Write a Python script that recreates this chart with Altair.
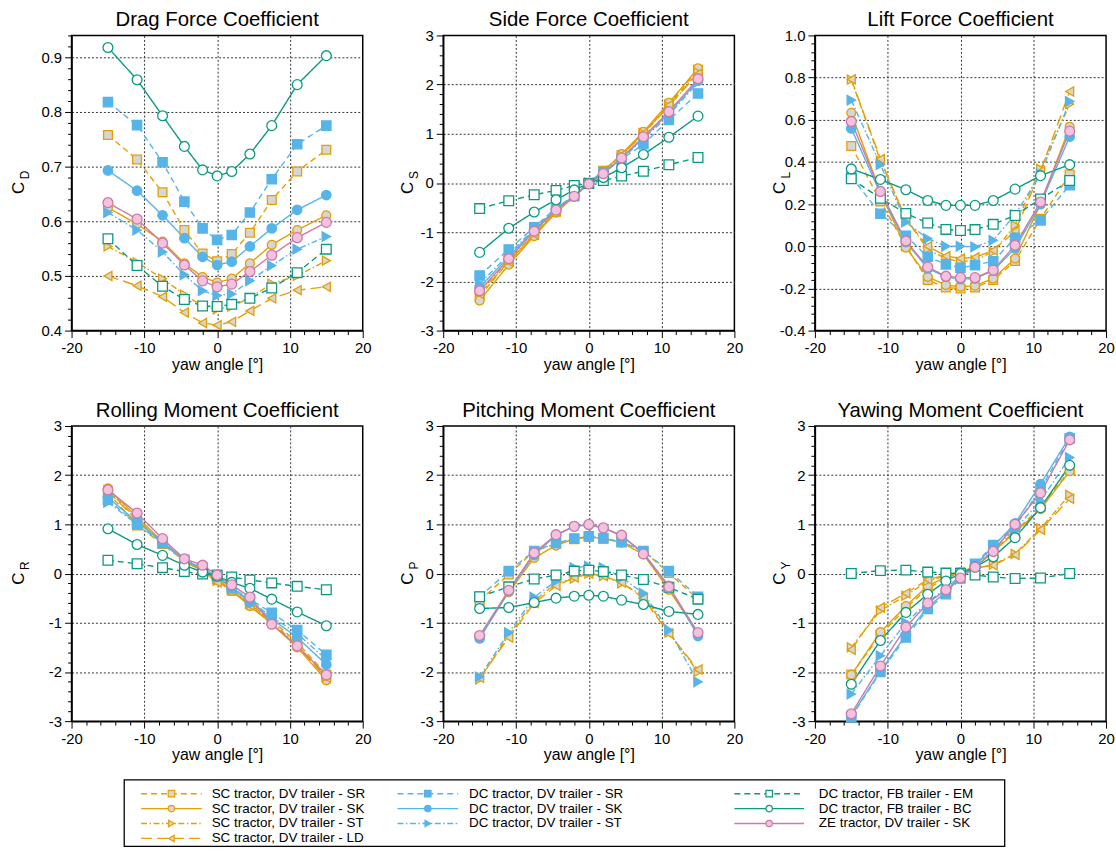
import altair as alt
import pandas as pd

yaw = [-15, -11, -7.5, -4.5, -2, 0, 2, 4.5, 7.5, 11, 15]

labels = [
    "SC tractor, DV trailer - SR",
    "SC tractor, DV trailer - SK",
    "SC tractor, DV trailer - ST",
    "SC tractor, DV trailer - LD",
    "DC tractor, DV trailer - SR",
    "DC tractor, DV trailer - SK",
    "DC tractor, DV trailer - ST",
    "DC tractor, FB trailer - EM",
    "DC tractor, FB trailer - BC",
    "ZE tractor, DV trailer - SK",
]
keys = ["SC_SR", "SC_SK", "SC_ST", "SC_LD", "DC_SR", "DC_SK", "DC_ST", "FB_EM", "FB_BC", "ZE_SK"]

CD = {
    "SC_SR": [0.758, 0.713, 0.653, 0.584, 0.541, 0.527, 0.540, 0.579, 0.639, 0.691, 0.731],
    "SC_SK": [0.625, 0.595, 0.563, 0.523, 0.498, 0.488, 0.495, 0.523, 0.557, 0.584, 0.611],
    "SC_ST": [0.554, 0.525, 0.495, 0.466, 0.445, 0.439, 0.444, 0.460, 0.486, 0.500, 0.528],
    "SC_LD": [0.500, 0.482, 0.462, 0.433, 0.414, 0.410, 0.416, 0.436, 0.459, 0.474, 0.480],
    "DC_SR": [0.818, 0.776, 0.708, 0.636, 0.587, 0.566, 0.575, 0.616, 0.677, 0.741, 0.775],
    "DC_SK": [0.693, 0.656, 0.611, 0.569, 0.535, 0.520, 0.526, 0.554, 0.587, 0.621, 0.648],
    "DC_ST": [0.616, 0.584, 0.544, 0.502, 0.473, 0.464, 0.467, 0.491, 0.519, 0.549, 0.572],
    "FB_EM": [0.568, 0.519, 0.481, 0.457, 0.445, 0.444, 0.448, 0.459, 0.478, 0.506, 0.549],
    "FB_BC": [0.918, 0.859, 0.793, 0.737, 0.694, 0.683, 0.691, 0.723, 0.775, 0.850, 0.903],
    "ZE_SK": [0.634, 0.604, 0.560, 0.520, 0.491, 0.480, 0.485, 0.508, 0.538, 0.570, 0.598],
}
CS = {
    "SC_SR": [-2.30, -1.60, -1.05, -0.58, -0.27, 0.00, 0.25, 0.57, 1.02, 1.60, 2.30],
    "SC_SK": [-2.39, -1.66, -1.08, -0.60, -0.27, 0.00, 0.24, 0.59, 1.04, 1.63, 2.33],
    "SC_ST": [-2.20, -1.58, -1.03, -0.57, -0.27, 0.00, 0.24, 0.56, 1.00, 1.56, 2.25],
    "SC_LD": [-2.25, -1.60, -1.04, -0.58, -0.27, 0.00, 0.25, 0.57, 1.01, 1.58, 2.22],
    "DC_SR": [-1.88, -1.35, -0.90, -0.50, -0.26, 0.00, 0.22, 0.48, 0.79, 1.28, 1.82],
    "DC_SK": [-2.12, -1.50, -0.95, -0.53, -0.26, 0.00, 0.22, 0.50, 0.92, 1.42, 2.08],
    "DC_ST": [-2.05, -1.45, -0.93, -0.52, -0.26, 0.00, 0.21, 0.48, 0.90, 1.38, 2.05],
    "FB_EM": [-0.52, -0.36, -0.24, -0.15, -0.05, -0.01, 0.05, 0.14, 0.24, 0.37, 0.52],
    "FB_BC": [-1.41, -0.92, -0.59, -0.34, -0.14, -0.01, 0.11, 0.31, 0.58, 0.93, 1.36],
    "ZE_SK": [-2.19, -1.54, -0.98, -0.55, -0.27, -0.02, 0.19, 0.51, 0.94, 1.45, 2.12],
}
CL = {
    "SC_SR": [0.476, 0.213, 0.000, -0.160, -0.196, -0.200, -0.196, -0.160, -0.070, 0.130, 0.340],
    "SC_SK": [0.633, 0.255, -0.006, -0.145, -0.184, -0.192, -0.187, -0.153, -0.058, 0.200, 0.567],
    "SC_ST": [0.790, 0.406, 0.130, -0.015, -0.058, -0.074, -0.066, -0.027, 0.100, 0.367, 0.674],
    "SC_LD": [0.792, 0.414, 0.126, 0.000, -0.046, -0.058, -0.052, -0.020, 0.071, 0.356, 0.734],
    "DC_SR": [0.330, 0.154, 0.050, -0.050, -0.086, -0.102, -0.090, -0.071, 0.040, 0.123, 0.290],
    "DC_SK": [0.559, 0.250, 0.020, -0.105, -0.145, -0.156, -0.153, -0.116, -0.010, 0.200, 0.520],
    "DC_ST": [0.693, 0.387, 0.115, 0.036, 0.000, 0.000, -0.003, 0.028, 0.150, 0.343, 0.687],
    "FB_EM": [0.320, 0.228, 0.156, 0.110, 0.080, 0.075, 0.079, 0.104, 0.146, 0.224, 0.312],
    "FB_BC": [0.367, 0.317, 0.268, 0.217, 0.194, 0.194, 0.194, 0.217, 0.271, 0.335, 0.387],
    "ZE_SK": [0.592, 0.260, 0.025, -0.099, -0.142, -0.149, -0.149, -0.113, 0.005, 0.210, 0.546],
}
CR = {
    "SC_SR": [1.65, 0.98, 0.60, 0.25, 0.05, -0.12, -0.35, -0.62, -0.95, -1.40, -2.05],
    "SC_SK": [1.73, 1.15, 0.65, 0.28, 0.08, -0.10, -0.35, -0.66, -1.02, -1.50, -2.17],
    "SC_ST": [1.70, 1.10, 0.63, 0.26, 0.06, -0.15, -0.33, -0.62, -0.98, -1.45, -2.10],
    "SC_LD": [1.68, 1.08, 0.62, 0.26, 0.05, -0.18, -0.33, -0.65, -1.00, -1.48, -2.12],
    "DC_SR": [1.50, 1.01, 0.62, 0.28, 0.12, -0.05, -0.28, -0.52, -0.80, -1.15, -1.65],
    "DC_SK": [1.55, 1.05, 0.65, 0.28, 0.10, -0.07, -0.30, -0.58, -0.92, -1.30, -1.85],
    "DC_ST": [1.45, 1.00, 0.62, 0.27, 0.10, -0.06, -0.29, -0.55, -0.88, -1.22, -1.75],
    "FB_EM": [0.27, 0.20, 0.12, 0.04, -0.01, -0.03, -0.07, -0.13, -0.19, -0.26, -0.33],
    "FB_BC": [0.91, 0.59, 0.37, 0.17, 0.03, -0.05, -0.18, -0.30, -0.52, -0.78, -1.06],
    "ZE_SK": [1.70, 1.23, 0.71, 0.30, 0.17, -0.03, -0.23, -0.48, -1.03, -1.47, -2.06],
}
CP = {
    "SC_SR": [-0.55, -0.02, 0.46, 0.60, 0.70, 0.75, 0.71, 0.64, 0.46, 0.01, -0.52],
    "SC_SK": [-1.29, -0.38, 0.32, 0.57, 0.71, 0.74, 0.71, 0.63, 0.39, -0.33, -1.22],
    "SC_ST": [-2.15, -1.25, -0.55, -0.20, -0.10, 0.00, -0.05, -0.20, -0.45, -1.20, -2.00],
    "SC_LD": [-2.12, -1.30, -0.60, -0.25, -0.08, 0.00, -0.05, -0.18, -0.50, -1.22, -1.95],
    "DC_SR": [-0.47, 0.05, 0.46, 0.62, 0.71, 0.76, 0.72, 0.64, 0.46, 0.05, -0.47],
    "DC_SK": [-1.32, -0.36, 0.38, 0.78, 0.96, 0.99, 0.92, 0.77, 0.42, -0.25, -1.27],
    "DC_ST": [-2.10, -1.20, -0.48, -0.15, 0.12, 0.15, 0.12, -0.08, -0.40, -1.15, -2.20],
    "FB_EM": [-0.47, -0.27, -0.11, -0.03, 0.05, 0.07, 0.04, -0.03, -0.12, -0.28, -0.52],
    "FB_BC": [-0.71, -0.69, -0.59, -0.50, -0.46, -0.44, -0.46, -0.54, -0.63, -0.77, -0.83],
    "ZE_SK": [-1.26, -0.34, 0.42, 0.79, 0.96, 1.00, 0.93, 0.78, 0.40, -0.27, -1.20],
}
CY = {
    "SC_SR": [-2.05, -1.25, -0.70, -0.30, -0.10, 0.02, 0.15, 0.46, 0.86, 1.35, 2.10],
    "SC_SK": [-2.06, -1.19, -0.66, -0.25, -0.07, 0.03, 0.13, 0.44, 0.84, 1.31, 2.08],
    "SC_ST": [-1.50, -0.75, -0.45, -0.15, -0.05, 0.02, 0.10, 0.18, 0.40, 0.92, 1.60],
    "SC_LD": [-1.55, -0.69, -0.40, -0.12, -0.03, 0.03, 0.11, 0.17, 0.38, 0.89, 1.52],
    "DC_SR": [-2.92, -2.00, -1.30, -0.72, -0.42, -0.10, 0.20, 0.58, 0.95, 1.72, 2.75],
    "DC_SK": [-2.90, -1.98, -1.25, -0.68, -0.38, -0.08, 0.17, 0.55, 1.02, 1.82, 2.78],
    "DC_ST": [-2.45, -1.67, -1.00, -0.58, -0.30, -0.05, 0.18, 0.50, 0.90, 1.48, 2.36],
    "FB_EM": [0.00, 0.06, 0.07, 0.03, 0.01, 0.00, -0.03, -0.07, -0.10, -0.09, 0.00],
    "FB_BC": [-2.25, -1.36, -0.79, -0.42, -0.15, 0.00, 0.13, 0.34, 0.73, 1.34, 2.20],
    "ZE_SK": [-2.85, -1.88, -1.09, -0.60, -0.33, -0.09, 0.13, 0.45, 1.00, 1.64, 2.72],
}

ORANGE = "#E69F00"
BLUE = "#56B4E9"
TEAL = "#0A9A82"
PINK = "#CC79A7"
GRAY = "#D6D6D6"
LPINK = "#F2C2DE"
WHITE = "#FFFFFF"

line_colors = [ORANGE, ORANGE, ORANGE, ORANGE, BLUE, BLUE, BLUE, TEAL, TEAL, PINK]
fill_colors = [GRAY, GRAY, GRAY, GRAY, BLUE, BLUE, BLUE, WHITE, WHITE, LPINK]
dashes = [[6, 4], [1, 0], [6, 2.5, 1.5, 2.5], [11, 5], [6, 4], [1, 0], [6, 2.5, 1.5, 2.5],
          [6, 4], [1, 0], [1, 0]]
shapes = ["square", "circle", "triangle-right", "triangle-left", "square", "circle",
          "triangle-right", "square", "circle", "circle"]
sizes = [78, 100, 70, 70, 42, 50, 45, 85, 105, 110]

FONT = "Liberation Sans"
W, H = 293, 297

s_stroke = alt.Scale(domain=labels, range=line_colors)
s_fill = alt.Scale(domain=labels, range=fill_colors)
s_dash = alt.Scale(domain=labels, range=dashes)
s_shape = alt.Scale(domain=labels, range=shapes)
s_size = alt.Scale(domain=labels, range=sizes)


def make_df(coef):
    rows = []
    for k, lab in zip(keys, labels):
        for a, v in zip(yaw, coef[k]):
            rows.append({"series": lab, "yaw": a, "value": v})
    return pd.DataFrame(rows)


def x_axis():
    major = "abs(datum.value) % 10 == 0"
    return alt.Axis(
        values=list(range(-20, 21, 2)), format=".0f", title="yaw angle [°]",
        labelExpr=f"({major}) ? replace(datum.label, '\u2212', '-') : ''",
        tickSize={"condition": {"test": major, "value": 7}, "value": 4},
        grid=True, gridDash=[2, 2], gridColor="#333333", gridWidth=1,
        gridOpacity={"condition": {"test": f"({major}) && abs(datum.value) < 20", "value": 1}, "value": 0},
        labelOverlap=False, labelFlush=False, labelPadding=3, titlePadding=1, tickCount=100,
    )


def y_axis(lo, hi, step, major_step, fmt):
    n = int(round((hi - lo) / step))
    vals = [round(lo + i * step, 4) for i in range(n + 1)]
    major = f"abs(datum.value / {major_step} - round(datum.value / {major_step})) < 0.001"
    edge = f"abs(datum.value - ({lo})) > 0.001 && abs(datum.value - ({hi})) > 0.001"
    return alt.Axis(
        values=vals, format=fmt, title=None,
        labelExpr=f"({major}) ? replace(datum.label, '\u2212', '-') : ''",
        tickSize={"condition": {"test": major, "value": 7}, "value": 4},
        grid=True, gridDash=[2, 2], gridColor="#333333", gridWidth=1,
        gridOpacity={"condition": {"test": f"({major}) && ({edge})", "value": 1}, "value": 0},
        labelOverlap=False, labelFlush=False, labelPadding=3, tickCount=100,
    )


# (data, title, subscript, y-low, y-high, minor step, major step, format, y-title offset)
panels = [
    (CD, "Drag Force Coefficient", "D", 0.4, 0.94, 0.02, 0.1, ".1f", -53),
    (CS, "Side Force Coefficient", "S", -3.0, 3.0, 0.2, 1.0, ".0f", -35),
    (CL, "Lift Force Coefficient", "L", -0.4, 1.0, 0.04, 0.2, ".1f", -35),
    (CR, "Rolling Moment Coefficient", "R", -3.0, 3.0, 0.2, 1.0, ".0f", -53),
    (CP, "Pitching Moment Coefficient", "P", -3.0, 3.0, 0.2, 1.0, ".0f", -35),
    (CY, "Yawing Moment Coefficient", "Y", -3.0, 3.0, 0.2, 1.0, ".0f", -35),
]


def panel(coef, title, sub, lo, hi, step, major_step, fmt, tx):
    df = make_df(coef)
    base = alt.Chart(df)
    x = alt.X("yaw:Q", scale=alt.Scale(domain=[-20, 20], nice=False, zero=False), axis=x_axis())
    y = alt.Y("value:Q", scale=alt.Scale(domain=[lo, hi], nice=False, zero=False),
              axis=y_axis(lo, hi, step, major_step, fmt))
    lines = base.mark_line(strokeWidth=1.4).encode(
        x=x, y=y,
        stroke=alt.Stroke("series:N", scale=s_stroke, legend=None),
        strokeDash=alt.StrokeDash("series:N", scale=s_dash, legend=None),
    )
    pts = base.mark_point(filled=True, opacity=1, strokeWidth=1.3).encode(
        x=x, y=y,
        stroke=alt.Stroke("series:N", scale=s_stroke, legend=None),
        fill=alt.Fill("series:N", scale=s_fill, legend=None),
        shape=alt.Shape("series:N", scale=s_shape, legend=None),
        size=alt.Size("series:N", scale=s_size, legend=None),
    )
    one = pd.DataFrame({"c": ["C"], "s": [sub], "t": [title]})
    ctext = alt.Chart(one).mark_text(angle=270, fontSize=17, font=FONT, align="center",
                                     baseline="middle", color="black").encode(
        x=alt.value(tx), y=alt.value(H / 2 + 5), text="c:N")
    stext = alt.Chart(one).mark_text(angle=270, fontSize=12, font=FONT, align="center",
                                     baseline="middle", color="black").encode(
        x=alt.value(tx + 6), y=alt.value(H / 2 - 8), text="s:N")
    ttext = alt.Chart(one).mark_text(fontSize=20.5, font=FONT, align="center",
                                     baseline="alphabetic", color="black").encode(
        x=alt.value(W / 2), y=alt.value(-9), text="t:N")
    guard = alt.Chart(one).mark_rule(strokeOpacity=0).encode(
        x=alt.value(-62), y=alt.value(100), y2=alt.value(110))
    return alt.layer(lines, pts, ctext, stext, ttext, guard).properties(width=W, height=H)


row1 = alt.hconcat(*[panel(*p) for p in panels[:3]], spacing=8)
row2 = alt.hconcat(*[panel(*p) for p in panels[3:]], spacing=8)
grid = alt.vconcat(row1, row2, spacing=27)

# legend (positions inside the legend area, origin at the left edge of the first panel)
leg_col = [0, 0, 0, 0, 1, 1, 1, 2, 2, 2]
leg_row = [0, 1, 2, 3, 0, 1, 2, 0, 1, 2]
col_line0 = [70, 328, 667]
col_line1 = [131, 389, 737]
col_text = [141, 400, 752]
row_y0, row_dy = 14, 15
box_x0, box_x1, box_y0, box_y1 = 53, 939, 0, 67
LW, LH = 945, 68

leg = pd.DataFrame({
    "lseries": labels,
    "x0": [col_line0[c] for c in leg_col],
    "x1": [col_line1[c] for c in leg_col],
    "xm": [(col_line0[c] + col_line1[c]) / 2 for c in leg_col],
    "xt": [col_text[c] for c in leg_col],
    "y": [row_y0 + row_dy * r for r in leg_row],
})
box = pd.DataFrame({"bx0": [box_x0], "bx1": [box_x1], "by0": [box_y0], "by1": [box_y1]})
leg_box = alt.Chart(box).mark_rect(fill="white", stroke="black", strokeWidth=1.3).encode(
    x=alt.X("bx0:Q", scale=None, axis=None), x2="bx1:Q",
    y=alt.Y("by0:Q", scale=None, axis=None), y2="by1:Q",
)
lb = alt.Chart(leg)
leg_lines = lb.mark_rule(strokeWidth=1.4).encode(
    x=alt.X("x0:Q", scale=None, axis=None), x2="x1:Q",
    y=alt.Y("y:Q", scale=None, axis=None),
    stroke=alt.Stroke("lseries:N", scale=s_stroke, legend=None),
    strokeDash=alt.StrokeDash("lseries:N", scale=s_dash, legend=None),
)
leg_pts = lb.mark_point(filled=True, opacity=1, strokeWidth=1.2, size=42).encode(
    x=alt.X("xm:Q", scale=None, axis=None),
    y=alt.Y("y:Q", scale=None, axis=None),
    stroke=alt.Stroke("lseries:N", scale=s_stroke, legend=None),
    fill=alt.Fill("lseries:N", scale=s_fill, legend=None),
    shape=alt.Shape("lseries:N", scale=s_shape, legend=None),
)
leg_text = lb.mark_text(align="left", baseline="middle", fontSize=13.5, font=FONT, color="black").encode(
    x=alt.X("xt:Q", scale=None, axis=None),
    y=alt.Y("y:Q", scale=None, axis=None),
    text="lseries:N",
)
legend = alt.layer(leg_box, leg_lines, leg_pts, leg_text).properties(
    width=LW, height=LH, view=alt.ViewBackground(strokeOpacity=0)
)

chart = alt.vconcat(grid, legend, spacing=15).properties(
    padding={"left": 9, "top": 7, "right": 0, "bottom": 0},
    background="white",
).configure(font=FONT).configure_view(
    stroke="black", strokeWidth=1.5
).configure_axis(
    labelFont=FONT, titleFont=FONT, labelFontSize=15, titleFontSize=16,
    labelColor="black", titleColor="black", titleFontWeight="normal",
    domainColor="black", domainWidth=1.5, tickColor="black", tickWidth=1,
)

chart.save("out.html", embed_options={"renderer": "svg", "actions": False})
